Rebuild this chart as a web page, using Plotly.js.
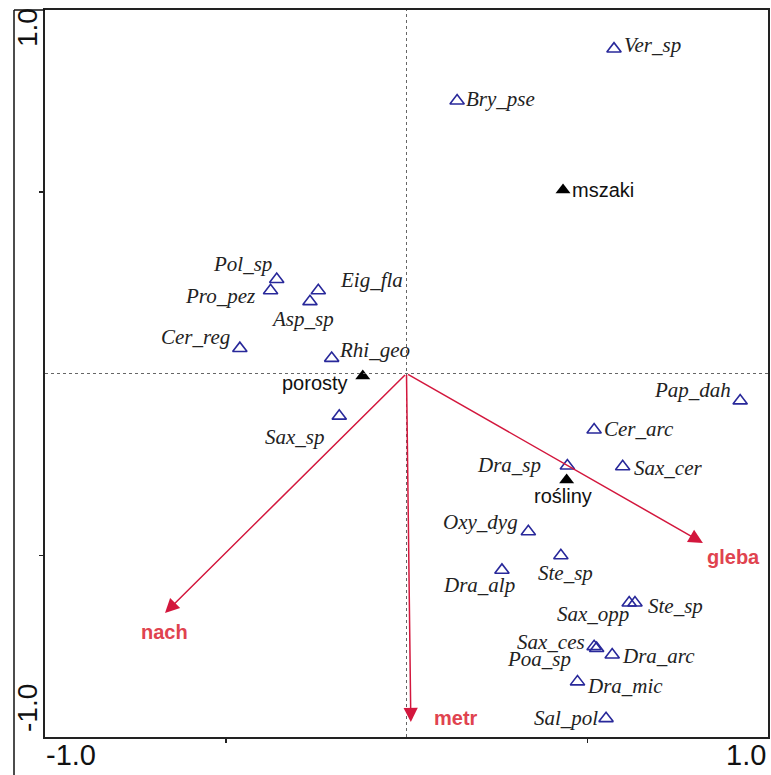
<!DOCTYPE html>
<html><head><meta charset="utf-8">
<script src="https://cdn.plot.ly/plotly-3.0.1.min.js"></script>
<style>html,body{margin:0;padding:0;background:#fff}#chart{width:771px;height:775px}</style>
</head><body><div id="chart"></div>
<script>
// species scores (open triangles)
const speciesNames = ["Ver_sp","Bry_pse","Pol_sp","Pro_pez","Eig_fla","Asp_sp","Cer_reg","Rhi_geo","Sax_sp","Pap_dah","Cer_arc","Dra_sp","Sax_cer","Oxy_dyg","Dra_alp","Ste_sp","Sax_opp","Ste_sp","Sax_ces","Poa_sp","Dra_arc","Dra_mic","Sal_pol"];
const speciesX = [0.574,0.140,-0.359,-0.376,-0.244,-0.267,-0.461,-0.207,-0.186,0.923,0.519,0.445,0.598,0.337,0.264,0.427,0.616,0.632,0.519,0.526,0.569,0.473,0.552];
const speciesY = [0.893,0.750,0.259,0.228,0.228,0.198,0.069,0.042,-0.117,-0.075,-0.155,-0.254,-0.256,-0.435,-0.541,-0.501,-0.631,-0.631,-0.751,-0.756,-0.774,-0.848,-0.949];
// group centroids (filled triangles)
const groupNames = ["mszaki","porosty","rośliny"];
const groupX = [0.433,-0.121,0.443];
const groupY = [0.505,-0.007,-0.293];
// environmental variables (arrows)
const envNames = ["nach","metr","gleba"];
const envX = [-0.668,0.012,0.820];
const envY = [-0.659,-0.959,-0.466];
// axis tick labels
const xTickLabels = ["-1.0","1.0"];
const yTickLabels = ["1.0","-1.0"];

// label placement (pixel offsets from the marker)
const spPlace = [
 ["left",8,4],["left",7,2],["right",-3,15],["right",-14,-5],["left",20,11],["center",-7,-17],
 ["right",-8,11],["left",5,8],["right",-12,-21],["right",-7,11],["left",8,1],["right",-24,1],
 ["left",9,-1],["right",-8,10],["center",-23,-15],["center",5,-17],["right",2,-11],["left",11,-3],
 ["right",-7,4],["right",-24,-11],["left",8,-1],["left",8,-4],["right",-6,0]];
const grpPlace = [["left",7,0],["right",-13,-7],["center",-4,-16]];
const envPlace = [["center",-1,-19],["left",21,4],["left",2,-14]];

const L=45,R=768,T=10,B=737;
const px2x = p => (p-L)/(R-L);
const px2y = p => (B-p)/(B-T);

const traces = [
 {type:"scatter",mode:"markers",x:speciesX,y:speciesY,hoverinfo:"skip",
  marker:{symbol:"triangle-up-open",size:12.5,color:"#28289a",line:{width:1.6,color:"#28289a"}}},
 {type:"scatter",mode:"markers",x:groupX,y:groupY,hoverinfo:"skip",
  marker:{symbol:"triangle-up",size:13,color:"#000"}}
];

const ann = [];
speciesNames.forEach((n,i)=>{
  const p=spPlace[i];
  ann.push({x:speciesX[i],y:speciesY[i],xref:"x",yref:"y",text:"<i>"+n+"</i>",showarrow:false,
    xanchor:p[0],yanchor:"middle",xshift:p[1],yshift:p[2],
    font:{family:"Liberation Serif",size:21,color:"#222"}});
});
groupNames.forEach((n,i)=>{
  const p=grpPlace[i];
  ann.push({x:groupX[i],y:groupY[i],xref:"x",yref:"y",text:n,showarrow:false,
    xanchor:p[0],yanchor:"middle",xshift:p[1],yshift:p[2],
    font:{family:"Liberation Sans, Arial",size:20,color:"#111"}});
});
envNames.forEach((n,i)=>{
  ann.push({x:envX[i],y:envY[i],xref:"x",yref:"y",ax:0,ay:0,axref:"x",ayref:"y",text:"",
    showarrow:true,arrowhead:2,arrowsize:1.9,arrowwidth:1.5,arrowcolor:"#d3173d",standoff:0});
  const p=envPlace[i];
  ann.push({x:envX[i],y:envY[i],xref:"x",yref:"y",text:"<b>"+n+"</b>",showarrow:false,
    xanchor:p[0],yanchor:"middle",xshift:p[1],yshift:p[2],
    font:{family:"Liberation Sans, Arial",size:20,color:"#e0434f"}});
});
// tick labels
ann.push({xref:"paper",yref:"paper",x:px2x(71),y:px2y(755),text:xTickLabels[0],showarrow:false,xanchor:"center",yanchor:"middle",font:{family:"Liberation Sans, Arial",size:29,color:"#111"}});
ann.push({xref:"paper",yref:"paper",x:px2x(768),y:px2y(755),text:xTickLabels[1],showarrow:false,xanchor:"right",yanchor:"middle",font:{family:"Liberation Sans, Arial",size:29,color:"#111"}});
ann.push({xref:"paper",yref:"paper",x:px2x(27),y:px2y(28),text:yTickLabels[0],showarrow:false,textangle:-90,xanchor:"center",yanchor:"middle",font:{family:"Liberation Sans, Arial",size:28,color:"#111"}});
ann.push({xref:"paper",yref:"paper",x:px2x(27),y:px2y(708),text:yTickLabels[1],showarrow:false,textangle:-90,xanchor:"center",yanchor:"middle",font:{family:"Liberation Sans, Arial",size:28,color:"#111"}});

const shapes = [
 {type:"line",xref:"x",yref:"y",x0:-1,x1:1,y0:0,y1:0,line:{color:"#666",width:1,dash:"dot"}},
 {type:"line",xref:"x",yref:"y",x0:0,x1:0,y0:-1,y1:1,line:{color:"#666",width:1,dash:"dot"}},
 {type:"line",xref:"paper",yref:"paper",x0:px2x(14),x1:px2x(14),y0:px2y(10),y1:px2y(780),line:{color:"#111",width:1.5}},
 {type:"line",xref:"paper",yref:"paper",x0:px2x(14),x1:px2x(45),y0:px2y(10),y1:px2y(10),line:{color:"#111",width:1.5}}
];

const axisCommon = {range:[-1,1],showgrid:false,zeroline:false,showline:true,mirror:true,
  linecolor:"#222",linewidth:2,ticks:"outside",ticklen:4,tickwidth:1.5,tickcolor:"#222",
  tickvals:[-0.5,0.5],showticklabels:false,fixedrange:true};

const layout = {
  width:771,height:775,margin:{l:L,r:771-R,t:T,b:775-B},
  paper_bgcolor:"#fff",plot_bgcolor:"#fff",showlegend:false,
  xaxis:Object.assign({},axisCommon),yaxis:Object.assign({},axisCommon),
  annotations:ann,shapes:shapes
};
Plotly.newPlot("chart",traces,layout,{displayModeBar:false,staticPlot:true});
</script></body></html>
